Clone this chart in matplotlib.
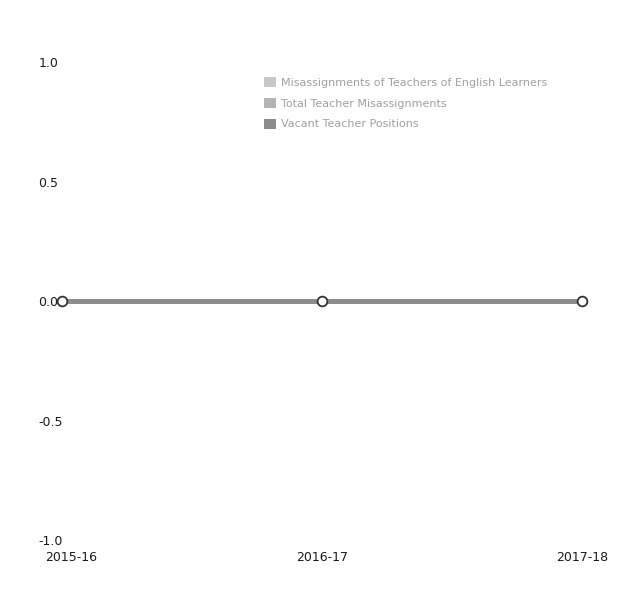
import matplotlib.pyplot as plt
from matplotlib.patches import Patch
from matplotlib.transforms import ScaledTranslation

years = ['2015-16', '2016-17', '2017-18']
misassign_el = [0, 0, 0]
total_misassign = [0, 0, 0]
vacant = [0, 0, 0]

series_names = ['Misassignments of Teachers of English Learners',
                'Total Teacher Misassignments',
                'Vacant Teacher Positions']
series_colors = ['#c8c8c8', '#b4b4b4', '#8c8c8c']

fig = plt.figure(figsize=(6.39, 5.93), dpi=100)
ax = fig.add_axes([0.097, 0.089, 0.814, 0.806])

x = range(len(years))
for vals, col in zip([misassign_el, total_misassign, vacant], series_colors):
    ax.plot(x, vals, color=col, linewidth=3.5, clip_on=False, zorder=2)
ax.plot(x, vacant, linestyle='none', marker='o', markersize=7,
        markerfacecolor='white', markeredgecolor='#333333', markeredgewidth=1.3,
        clip_on=False, zorder=3)

ax.set_xlim(0, 2)
ax.set_ylim(-1, 1)
ax.set_yticks([-1.0, -0.5, 0.0, 0.5, 1.0])
ax.set_yticklabels(['-1.0', '-0.5', '0.0', '0.5', '1.0'])
ax.set_xticks(list(x))
ax.set_xticklabels(years)

for s in ax.spines.values():
    s.set_visible(False)
ax.tick_params(axis='both', length=0, labelsize=9, colors='#1a1a1a')
ax.tick_params(axis='y', pad=17)
ax.tick_params(axis='x', pad=8)
for t in ax.get_yticklabels():
    t.set_ha('left')

first = ax.get_xticklabels()[0]
first.set_transform(first.get_transform() + ScaledTranslation(9 / 100, 0, fig.dpi_scale_trans))

handles = [Patch(facecolor=c, edgecolor='none') for c in series_colors]
leg = ax.legend(handles, series_names, loc='upper left', bbox_to_anchor=(0.37, 0.99),
                frameon=False, fontsize=8, handlelength=1.0, handleheight=1.0,
                handletextpad=0.5, labelspacing=0.9)
for t in leg.get_texts():
    t.set_color('#a0a0a0')

fig.savefig('out.png', dpi=100, facecolor='white')
